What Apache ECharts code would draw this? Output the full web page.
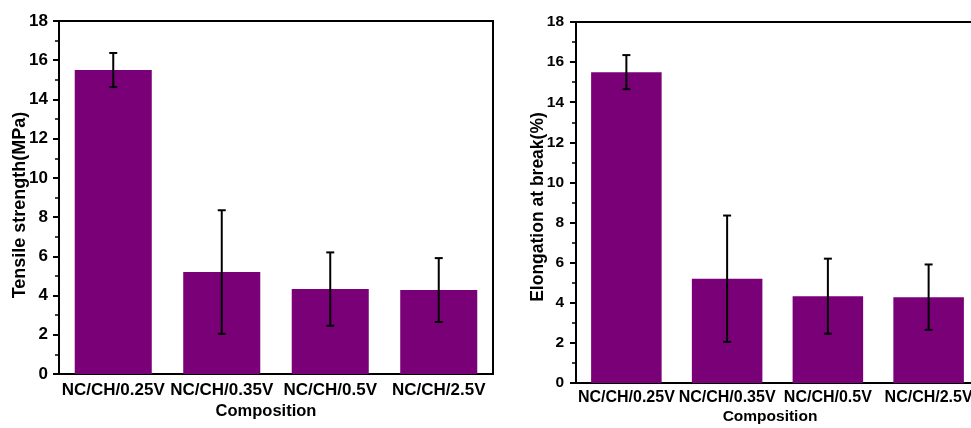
<!DOCTYPE html>
<html>
<head>
<meta charset="utf-8">
<script src="https://cdn.jsdelivr.net/npm/echarts@6/dist/echarts.min.js"></script>
<style>
  html, body { margin: 0; padding: 0; background: #fff; }
  #chart { width: 971px; height: 428px; }
</style>
</head>
<body>
<div id="chart"></div>
<script>
// Sample compositions
const categories = ['NC/CH/0.25V', 'NC/CH/0.35V', 'NC/CH/0.5V', 'NC/CH/2.5V'];

// Tensile strength (MPa): mean and standard deviation
const tensileMean = [15.5, 5.2, 4.33, 4.28];
const tensileErr  = [0.87, 3.15, 1.87, 1.63];

// Elongation at break (%): mean and standard deviation
const elongMean = [15.5, 5.2, 4.33, 4.28];
const elongErr  = [0.85, 3.15, 1.87, 1.63];

const yTicks = { min: 0, max: 18, interval: 2 };

const barColor = '#7a0078';
const fontFamily = 'Liberation Sans, Arial, sans-serif';

function errorData(mean, err) {
  return mean.map((m, i) => [i, m - err[i], m + err[i]]);
}

function renderErrorBar(params, api) {
  const x = api.value(0);
  const lo = api.coord([x, api.value(1)]);
  const hi = api.coord([x, api.value(2)]);
  const half = 4;
  const style = { stroke: '#000', lineWidth: 2 };
  return {
    type: 'group',
    children: [
      { type: 'line', shape: { x1: hi[0], y1: hi[1], x2: lo[0], y2: lo[1] }, style },
      { type: 'line', shape: { x1: hi[0] - half, y1: hi[1], x2: hi[0] + half, y2: hi[1] }, style },
      { type: 'line', shape: { x1: lo[0] - half, y1: lo[1], x2: lo[0] + half, y2: lo[1] }, style }
    ]
  };
}

function categoryAxis(gridIndex, fontSize, margin) {
  return [
    {
      type: 'category', gridIndex, data: categories, position: 'bottom',
      axisLine: { lineStyle: { color: '#000', width: 2 } },
      axisTick: { alignWithLabel: true, length: 6, lineStyle: { color: '#000', width: 2 } },
      axisLabel: { interval: 0, margin, color: '#000', fontWeight: 'bold', fontSize, fontFamily },
      splitLine: { show: false }
    },
    {
      // boundary ticks between categories
      type: 'category', gridIndex, data: categories, position: 'bottom',
      axisLine: { show: false },
      axisTick: { alignWithLabel: false, length: 4, lineStyle: { color: '#000', width: 2 } },
      axisLabel: { show: false },
      splitLine: { show: false }
    }
  ];
}

function valueAxis(gridIndex, fontSize, margin) {
  return {
    type: 'value', gridIndex,
    min: yTicks.min, max: yTicks.max, interval: yTicks.interval,
    axisLine: { show: true, lineStyle: { color: '#000', width: 2 } },
    axisTick: { show: true, length: 6, lineStyle: { color: '#000', width: 2 } },
    minorTick: { show: true, splitNumber: 2, length: 4, lineStyle: { color: '#000', width: 1.5 } },
    axisLabel: { margin, color: '#000', fontWeight: 'bold', fontSize, fontFamily },
    splitLine: { show: false }
  };
}

const chart = echarts.init(document.getElementById('chart'), null, { renderer: 'canvas' });

const gridBase = {
  show: true, borderColor: '#000', borderWidth: 2, backgroundColor: 'transparent',
  containLabel: false, outerBoundsMode: 'none'
};

chart.setOption({
  backgroundColor: '#fff',
  animation: false,
  grid: [
    Object.assign({ left: 59, top: 21, width: 434, height: 353 }, gridBase),
    Object.assign({ left: 576, top: 22, width: 403, height: 361 }, gridBase)
  ],
  xAxis: [
    ...categoryAxis(0, 17, 8),
    ...categoryAxis(1, 16, 7)
  ],
  yAxis: [
    valueAxis(0, 17, 11),
    valueAxis(1, 15.5, 12)
  ],
  graphic: [
    {
      type: 'text', x: 20, y: 205, rotation: Math.PI / 2,
      style: { text: 'Tensile strength(MPa)', fill: '#000', font: 'bold 18px ' + fontFamily, align: 'center', verticalAlign: 'middle' }
    },
    {
      type: 'text', x: 538, y: 207, rotation: Math.PI / 2,
      style: { text: 'Elongation at break(%)', fill: '#000', font: 'bold 17.5px ' + fontFamily, align: 'center', verticalAlign: 'middle' }
    },
    {
      type: 'text', x: 266, y: 411,
      style: { text: 'Composition', fill: '#000', font: 'bold 16.5px ' + fontFamily, align: 'center', verticalAlign: 'middle' }
    },
    {
      type: 'text', x: 770, y: 417,
      style: { text: 'Composition', fill: '#000', font: 'bold 15.5px ' + fontFamily, align: 'center', verticalAlign: 'middle' }
    }
  ],
  series: [
    {
      type: 'bar', xAxisIndex: 0, yAxisIndex: 0, data: tensileMean,
      barWidth: '71%', itemStyle: { color: barColor }
    },
    {
      type: 'custom', xAxisIndex: 0, yAxisIndex: 0,
      data: errorData(tensileMean, tensileErr), renderItem: renderErrorBar, z: 10
    },
    {
      type: 'bar', xAxisIndex: 2, yAxisIndex: 1, data: elongMean,
      barWidth: '70%', itemStyle: { color: barColor }
    },
    {
      type: 'custom', xAxisIndex: 2, yAxisIndex: 1,
      data: errorData(elongMean, elongErr), renderItem: renderErrorBar, z: 10
    }
  ]
});
</script>
</body>
</html>
